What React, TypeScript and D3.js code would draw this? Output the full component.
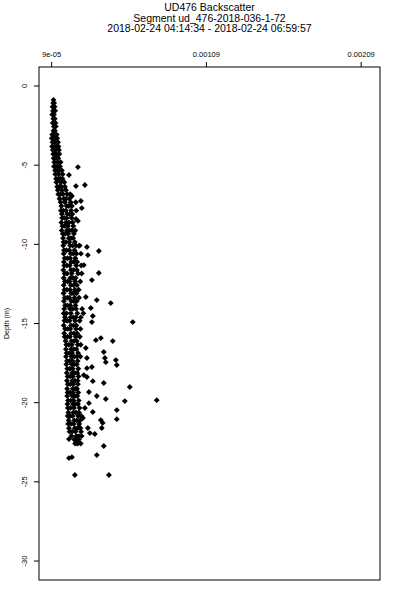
import * as d3 from 'd3'
import React from 'react'

// Title lines
const titleLines = [
  'UD476 Backscatter',
  'Segment ud_476-2018-036-1-72',
  '2018-02-24 04:14:34 - 2018-02-24 06:59:57'
]

// Axis ticks
const xTicks = [0.00009, 0.00109, 0.00209]
const xTickLabels = ['9e-05', '0.00109', '0.00209']
const yTicks = [0, -5, -10, -15, -20, -25, -30]
const yLabel = 'Depth (m)'

// backscatter values are written in units of 1e-5
const UNIT = 1e-5

// dense column of samples: [depth, backscatter...]
const coreRows: number[][] = [
  [-0.88, 10.2],
  [-1.08, 10.0, 10.6],
  [-1.31, 9.6, 10.9],
  [-1.57, 9.9, 11.3],
  [-1.8, 9.4, 10.5],
  [-2.07, 10.1, 11.0],
  [-2.33, 9.7, 10.6, 11.5],
  [-2.55, 10.4, 11.7],
  [-2.83, 10.2, 11.1],
  [-3.07, 9.4, 10.9, 12.3],
  [-3.3, 9.1, 10.4, 11.8, 12.6],
  [-3.55, 9.6, 11.2, 13.1],
  [-3.82, 9.3, 10.8, 12.2, 13.4],
  [-4.04, 9.8, 11.5, 13.7],
  [-4.3, 10.0, 11.1, 12.4, 14.0],
  [-4.57, 10.3, 11.9, 13.3],
  [-4.81, 10.7, 12.9, 14.8],
  [-5.08, 10.5, 11.8, 13.0, 14.4],
  [-5.33, 11.2, 12.7, 14.1, 15.6],
  [-5.57, 11.4, 13.6, 16.1],
  [-5.86, 11.9, 13.3, 14.6, 16.0],
  [-6.08, 12.1, 14.9, 17.2],
  [-6.36, 12.6, 14.0, 15.4, 17.6],
  [-6.58, 13.0, 15.7, 18.3],
  [-6.83, 13.3, 14.8, 16.4, 19.1, 21.0],
  [-7.12, 14.1, 16.9, 18.4, 20.5],
  [-7.34, 14.8, 17.6, 21.3, 24.6],
  [-7.58, 15.3, 18.7, 20.1, 22.1],
  [-7.87, 15.0, 16.5, 18.2, 21.6, 24.9],
  [-8.09, 15.6, 19.1, 20.7, 22.4],
  [-8.33, 15.8, 17.2, 18.8, 21.9],
  [-8.62, 15.3, 18.4, 20.2, 22.6],
  [-8.84, 16.0, 17.6, 19.5, 23.0],
  [-9.12, 15.5, 18.9, 20.6, 22.2, 24.3],
  [-9.33, 16.2, 17.7, 19.7, 23.4],
  [-9.61, 16.4, 20.1, 21.5, 22.9],
  [-9.86, 16.7, 18.3, 20.4, 24.0],
  [-10.08, 16.5, 20.9, 22.6, 24.7, 27.1],
  [-10.37, 17.0, 18.6, 20.5, 23.8],
  [-10.59, 16.8, 21.3, 23.0, 25.1, 27.9],
  [-10.88, 17.4, 19.2, 21.0, 24.3],
  [-11.11, 16.9, 21.7, 23.3, 25.5],
  [-11.34, 17.2, 18.9, 20.7, 24.9, 28.1],
  [-11.62, 16.6, 21.5, 23.1, 25.3],
  [-11.84, 17.4, 19.0, 21.9, 26.1, 28.4],
  [-12.13, 16.8, 21.1, 22.8, 24.5],
  [-12.35, 17.6, 19.3, 20.6, 24.2, 27.5],
  [-12.58, 16.8, 21.4, 23.2, 25.4],
  [-12.87, 17.3, 18.9, 20.8, 24.0, 26.5],
  [-13.09, 16.7, 21.6, 23.0, 25.1],
  [-13.37, 17.5, 19.1, 20.4, 23.8, 26.7],
  [-13.59, 16.9, 21.7, 23.3, 25.2],
  [-13.86, 17.7, 19.2, 21.0, 24.4],
  [-14.08, 17.1, 20.9, 22.6, 24.8, 28.7],
  [-14.36, 16.8, 18.6, 21.4, 25.6, 29.5],
  [-14.61, 17.6, 21.2, 23.0, 24.6, 27.8],
  [-14.83, 17.3, 19.0, 20.6, 24.2, 27.1],
  [-15.12, 16.8, 21.5, 23.1, 25.0],
  [-15.34, 17.7, 19.3, 21.0, 24.8, 27.6],
  [-15.62, 17.1, 21.6, 23.4, 25.5],
  [-15.84, 17.4, 19.2, 20.8, 24.6, 27.2],
  [-16.11, 18.0, 21.9, 23.5, 25.2],
  [-16.34, 18.5, 20.1, 22.0, 25.9, 27.8],
  [-16.62, 18.2, 21.6, 23.3, 25.0],
  [-16.87, 18.7, 20.4, 22.2, 26.1],
  [-17.09, 18.3, 21.8, 23.6, 25.4, 27.6],
  [-17.37, 18.9, 20.6, 22.4, 25.8],
  [-17.58, 18.5, 22.0, 23.7, 25.3],
  [-17.86, 19.1, 20.8, 22.6, 26.2],
  [-18.12, 18.8, 22.3, 24.0, 25.6],
  [-18.34, 19.3, 20.9, 22.8, 26.4],
  [-18.61, 18.9, 22.4, 24.1, 25.8],
  [-18.83, 19.4, 21.1, 23.0, 26.0],
  [-19.12, 19.0, 22.7, 24.3, 25.4],
  [-19.36, 19.3, 21.0, 22.8, 26.2],
  [-19.58, 19.1, 22.4, 24.0, 25.6],
  [-19.87, 19.6, 21.3, 23.2, 26.5],
  [-20.09, 19.2, 22.8, 24.4, 26.0],
  [-20.33, 19.5, 21.2, 23.4, 27.0],
  [-20.62, 19.8, 23.0, 24.7, 26.6],
  [-20.84, 19.4, 21.0, 22.6, 26.2, 28.2],
  [-21.12, 20.0, 23.6, 25.3, 27.4],
  [-21.34, 19.7, 21.5, 23.2, 26.8],
  [-21.61, 20.2, 24.0, 25.7, 27.6],
  [-21.83, 20.6, 22.3, 24.4, 28.0],
  [-22.11, 21.8, 25.0, 26.6, 28.4],
  [-22.33, 23.6, 25.2, 26.6],
  [-22.58, 24.2, 25.9, 27.8]
]

// scattered samples away from the column: [backscatter, depth]
const scatterPoints: number[][] = [
  [26.0, -5.12], [20.2, -5.62], [24.7, -6.32], [30.5, -6.25], [22.1, -6.95],
  [27.9, -7.26], [28.5, -7.71], [24.7, -8.40], [26.0, -8.52], [31.8, -10.17],
  [26.6, -10.1], [39.5, -10.42], [32.4, -10.68], [29.8, -11.31], [39.5, -11.81],
  [35.0, -12.26], [31.1, -13.33], [38.2, -13.52], [47.2, -13.71], [34.3, -14.02],
  [35.6, -14.53], [35.0, -14.91], [61.4, -14.91], [37.6, -16.05], [40.8, -15.92],
  [48.5, -16.11], [31.1, -16.55], [42.7, -16.80], [31.8, -17.18], [43.4, -17.18],
  [44.0, -17.44], [50.5, -17.31], [51.1, -17.62], [35.0, -17.75], [31.8, -17.82],
  [29.8, -18.26], [31.8, -18.38], [35.6, -18.64], [42.7, -18.76], [59.5, -19.01],
  [33.1, -19.33], [38.2, -19.58], [44.0, -19.77], [56.3, -19.90], [76.9, -19.84],
  [33.1, -20.03], [30.5, -20.34], [35.6, -20.59], [51.1, -20.47], [40.8, -21.10],
  [51.1, -21.04], [29.2, -20.97], [42.0, -21.28], [26.6, -21.54], [41.4, -21.60],
  [32.4, -21.60], [33.7, -21.92], [36.9, -21.98], [20.2, -22.30], [26.0, -22.49],
  [25.3, -22.55], [42.7, -22.74], [38.2, -23.31], [22.1, -23.44], [20.2, -23.50],
  [24.0, -24.57], [46.0, -24.57]
]

const W = 400
const H = 600
const plot = { left: 39, right: 380, top: 67, bottom: 580 }

const App = () => {
  const x = d3.scaleLinear().domain([0.0000084, 0.0022116]).range([plot.left, plot.right])
  const y = d3.scaleLinear().domain([1.2, -31.2]).range([plot.top, plot.bottom])
  const diamond = d3.symbol(d3.symbolDiamond2, 22)()

  const points: [number, number][] = []
  coreRows.forEach((row) => {
    row.slice(1).forEach((v) => points.push([v * UNIT, row[0]]))
  })
  scatterPoints.forEach((p) => points.push([p[0] * UNIT, p[1]]))

  const font = '"Liberation Sans", Arial, Helvetica, sans-serif'
  const cx = (plot.left + plot.right) / 2
  const cy = (plot.top + plot.bottom) / 2

  return (
    <div style={{ position: 'absolute', left: 0, top: 0, width: W, height: H, background: '#fff' }}>
      <svg width={W} height={H} style={{ display: 'block', fontFamily: font }}>
        {titleLines.map((t, i) => (
          <text key={t} x={cx} y={11 + i * 10.5} textAnchor='middle' fontSize={10.5} fill='#000'>
            {t}
          </text>
        ))}

        {/* top axis */}
        {xTicks.map((t, i) => (
          <g key={t}>
            <line x1={x(t)} x2={x(t)} y1={plot.top} y2={plot.top - 5} stroke='#000' />
            <text x={x(t)} y={57} textAnchor='middle' fontSize={7.5} fill='#000'>
              {xTickLabels[i]}
            </text>
          </g>
        ))}

        {/* left axis */}
        {yTicks.map((t) => (
          <g key={t}>
            <line x1={plot.left} x2={plot.left - 5} y1={y(t)} y2={y(t)} stroke='#000' />
            <text
              transform={`translate(27,${y(t)}) rotate(-90)`}
              textAnchor='middle'
              fontSize={7.5}
              fill='#000'
            >
              {t}
            </text>
          </g>
        ))}
        <text
          transform={`translate(9,${cy}) rotate(-90)`}
          textAnchor='middle'
          fontSize={7}
          fill='#000'
        >
          {yLabel}
        </text>

        {/* data */}
        {points.map((p, i) => (
          <path key={i} d={diamond ?? ''} transform={`translate(${x(p[0])},${y(p[1])})`} fill='#000' />
        ))}

        <rect
          x={plot.left}
          y={plot.top}
          width={plot.right - plot.left}
          height={plot.bottom - plot.top}
          fill='none'
          stroke='#000'
        />
      </svg>
    </div>
  )
}

export default App
